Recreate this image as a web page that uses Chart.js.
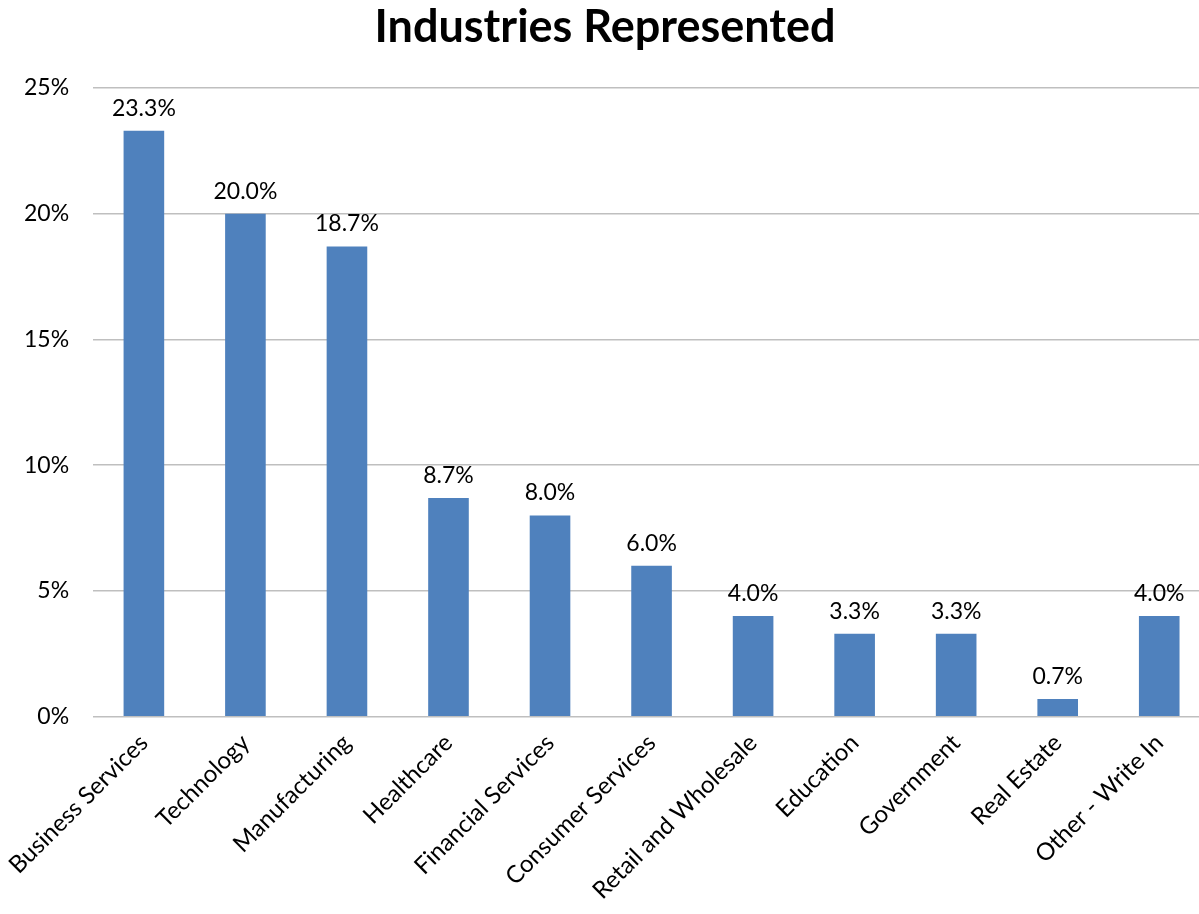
<!DOCTYPE html>
<html>
<head>
<meta charset="utf-8">
<script src="https://cdn.jsdelivr.net/npm/chart.js@4/dist/chart.umd.min.js"></script>
<style>
  html, body { margin: 0; padding: 0; background: #fff; overflow: hidden; }
  #wrap { width: 1210px; height: 914px; }
</style>
</head>
<body>
<div id="wrap"><canvas id="myChart"></canvas></div>
<script>
// Industry categories and their share of respondents (percent)
const industries = [
    "Business Services", "Technology", "Manufacturing", "Healthcare",
    "Financial Services", "Consumer Services", "Retail and Wholesale",
    "Education", "Government", "Real Estate", "Other - Write In"
];
const shares = [23.3, 20.0, 18.7, 8.7, 8.0, 6.0, 4.0, 3.3, 3.3, 0.7, 4.0];

// Y axis ticks in percent
const yTicks = [0, 5, 10, 15, 20, 25];

const FONT = "Lato, 'Open Sans', sans-serif";

// Small plugin that writes the value above each bar
const valueLabels = {
    id: "valueLabels",
    afterDatasetsDraw(chart) {
        const ctx = chart.ctx;
        const meta = chart.getDatasetMeta(0);
        ctx.save();
        ctx.font = "23px " + FONT;
        ctx.fillStyle = "#000";
        ctx.textAlign = "center";
        ctx.textBaseline = "bottom";
        meta.data.forEach((bar, i) => {
            ctx.fillText(shares[i].toFixed(1) + "%", bar.x, bar.y - 11);
        });
        ctx.restore();
    }
};

const chartData = {
    labels: industries,
    datasets: [
        {
            data: shares,
            backgroundColor: "#4F81BD",
            borderWidth: 0,
            barPercentage: 0.4,
            categoryPercentage: 1.0
        }
    ]
};

const chartOptions = {
    responsive: true,
    maintainAspectRatio: false,
    animation: false,
    layout: { padding: { left: 0, right: 0, top: 0, bottom: 5 } },
    plugins: {
        legend: { display: false },
        tooltip: { enabled: false },
        title: {
            display: true,
            text: "Industries Represented",
            color: "#000",
            font: { family: FONT, size: 45, weight: "bold" },
            padding: { top: 0, bottom: 34 }
        }
    },
    scales: {
        x: {
            grid: { display: false },
            border: { display: false },
            ticks: {
                color: "#000",
                font: { family: FONT, size: 24 },
                minRotation: 45,
                maxRotation: 45,
                autoSkip: false,
                padding: 4
            }
        },
        y: {
            min: 0,
            max: 25,
            afterBuildTicks(axis) {
                axis.ticks = yTicks.map(v => ({ value: v }));
            },
            grid: { color: "#BFBFBF", lineWidth: 1.5, drawTicks: false },
            border: { display: false },
            ticks: {
                color: "#000",
                font: { family: FONT, size: 23 },
                padding: 24,
                callback: v => v + "%"
            }
        }
    }
};

const myChart = new Chart(document.getElementById("myChart"), {
    type: "bar",
    data: chartData,
    options: chartOptions,
    plugins: [valueLabels]
});
</script>
</body>
</html>
